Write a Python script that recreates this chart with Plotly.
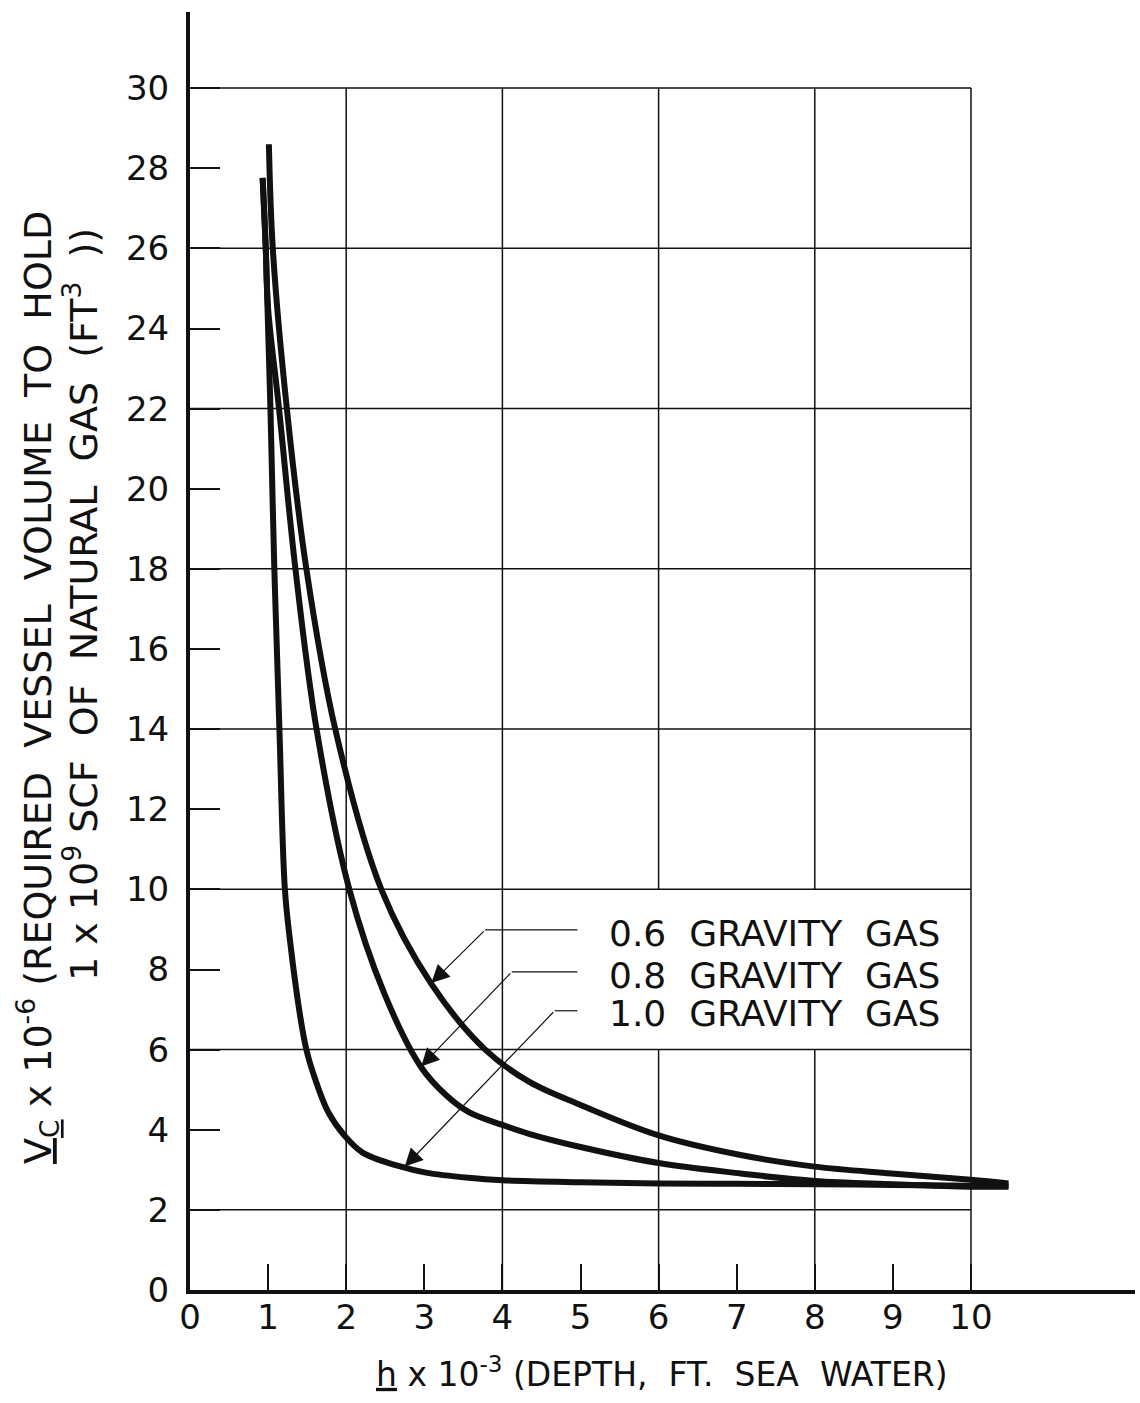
import plotly.graph_objects as go

# ---- data ----
h_06 = [1.01, 1.06, 1.24, 1.49, 1.86, 2.45, 3.09, 3.78, 4.34, 5.00, 6.00, 7.05, 8.00, 8.98, 10.00, 10.48]
v_06 = [28.6, 26.0, 22.0, 18.0, 14.0, 10.0, 7.64, 6.0, 5.2, 4.62, 3.86, 3.37, 3.08, 2.91, 2.75, 2.66]

h_08 = [0.93, 0.97, 1.00, 1.14, 1.35, 1.62, 2.04, 2.49, 2.96, 3.28, 3.57, 4.00, 4.34, 5.00, 6.00, 7.05, 8.00, 9.00, 10.00, 10.48]
v_08 = [27.76, 26.0, 24.5, 22.0, 18.0, 14.0, 10.0, 7.39, 5.56, 4.86, 4.44, 4.12, 3.9, 3.57, 3.17, 2.91, 2.72, 2.64, 2.58, 2.58]

h_10 = [0.93, 0.97, 1.00, 1.03, 1.08, 1.145, 1.215, 1.285, 1.40, 1.49, 1.60, 1.77, 1.98, 2.21, 2.68, 3.02, 3.57, 4.00, 5.00, 6.00, 7.00, 8.00, 9.00, 10.00, 10.48]
v_10 = [27.76, 26.0, 24.0, 22.0, 18.0, 14.0, 10.0, 8.65, 6.97, 6.0, 5.28, 4.44, 3.85, 3.43, 3.09, 2.93, 2.80, 2.74, 2.69, 2.66, 2.65, 2.64, 2.62, 2.60, 2.60]

series_names = ["0.6 GRAVITY GAS", "0.8 GRAVITY GAS", "1.0 GRAVITY GAS"]
x_ticks = [0, 1, 2, 3, 4, 5, 6, 7, 8, 9, 10]
y_ticks = [0, 2, 4, 6, 8, 10, 12, 14, 16, 18, 20, 22, 24, 26, 28, 30]
x_grid = [2, 4, 6, 8, 10]
y_grid = [2, 6, 10, 14, 18, 22, 26, 30]

# label positions (data units): label y, leader start x, arrow tip x, tip y
label_y = [8.99, 7.94, 6.97]
leader_x0 = [3.78, 4.12, 4.67]
tip_x = [3.09, 2.96, 2.75]
tip_y = [7.66, 5.58, 3.08]

FONT = "DejaVu Sans"
INK = "#111111"
SP = " \u00a0"

fig = go.Figure()
for xs, ys in [(h_06, v_06), (h_08, v_08), (h_10, v_10)]:
    fig.add_trace(go.Scatter(x=xs, y=ys, mode="lines",
                             line=dict(color=INK, width=6, shape="spline", smoothing=1.0),
                             showlegend=False, hoverinfo="skip"))

shapes = []
# vertical grid lines (x=6 and x=8 broken by the label box)
for gx in x_grid:
    segs = [(0, 6), (10, 30)] if gx in (6, 8) else [(0, 30)]
    for y0, y1 in segs:
        shapes.append(dict(type="line", xref="x", yref="y", x0=gx, x1=gx, y0=y0, y1=y1,
                           line=dict(color=INK, width=1.5), layer="below"))
for gy in y_grid:
    shapes.append(dict(type="line", xref="x", yref="y", x0=0, x1=10, y0=gy, y1=gy,
                       line=dict(color=INK, width=1.5), layer="below"))
# horizontal parts of leader lines
for ly, lx0 in zip(label_y, leader_x0):
    shapes.append(dict(type="line", xref="x", yref="y", x0=lx0, x1=4.96, y0=ly, y1=ly,
                       line=dict(color=INK, width=1.2)))

annotations = []
for name, ly, lx0, tx, ty in zip(series_names, label_y, leader_x0, tip_x, tip_y):
    annotations.append(dict(x=9.63, y=ly - 0.08, xref="x", yref="y", text=name.replace(" ", SP),
                            showarrow=False, xanchor="right", yanchor="middle",
                            font=dict(family=FONT, size=36, color=INK)))
    annotations.append(dict(x=tx, y=ty, xref="x", yref="y", ax=lx0, ay=ly, axref="x", ayref="y",
                            text="", showarrow=True, arrowhead=2, arrowsize=3, arrowwidth=1.2,
                            arrowcolor=INK))

# axis titles
annotations.append(dict(x=(662 - 190) / 945, y=(1290 - 1372) / 1278, xref="paper", yref="paper",
                        text="<u>h</u> x 10<sup>-3</sup> (DEPTH," + SP + "FT." + SP + "SEA" + SP + "WATER)",
                        showarrow=False, xanchor="center", yanchor="middle",
                        font=dict(family=FONT, size=33, color=INK)))
annotations.append(dict(x=(37 - 190) / 945, y=(1290 - 688) / 1278, xref="paper", yref="paper",
                        text="<u>V<sub>C</sub></u> x 10<sup>-6</sup> (REQUIRED" + SP + "VESSEL" + SP + "VOLUME" + SP + "TO" + SP + "HOLD",
                        showarrow=False, textangle=-90, xanchor="center", yanchor="middle",
                        font=dict(family=FONT, size=38, color=INK)))
annotations.append(dict(x=(81 - 190) / 945, y=(1290 - 605) / 1278, xref="paper", yref="paper",
                        text="1 x 10<sup>9</sup> SCF" + SP + "OF" + SP + "NATURAL" + SP + "GAS" + SP + "(FT<sup>3</sup>" + SP + "))",
                        showarrow=False, textangle=-90, xanchor="center", yanchor="middle",
                        font=dict(family=FONT, size=38, color=INK)))

fig.update_layout(
    width=1140, height=1403,
    margin=dict(l=190, r=5, t=12, b=113, pad=0),
    paper_bgcolor="white", plot_bgcolor="white",
    shapes=shapes, annotations=annotations,
    xaxis=dict(range=[0, 12.1], tickvals=x_ticks, ticktext=[str(t) for t in x_ticks],
               showgrid=False, zeroline=False, showline=True, linecolor=INK, linewidth=4,
               ticks="inside", ticklen=26, tickwidth=1.5, tickcolor=INK,
               tickfont=dict(family=FONT, size=34, color=INK), ticklabelstandoff=-6),
    yaxis=dict(range=[0, 31.9], tickvals=y_ticks, ticktext=[str(t) for t in y_ticks],
               showgrid=False, zeroline=False, showline=True, linecolor=INK, linewidth=4,
               ticks="inside", ticklen=30, tickwidth=1.5, tickcolor=INK,
               tickfont=dict(family=FONT, size=34, color=INK), ticklabelstandoff=10),
)

fig.write_html("out.html")
